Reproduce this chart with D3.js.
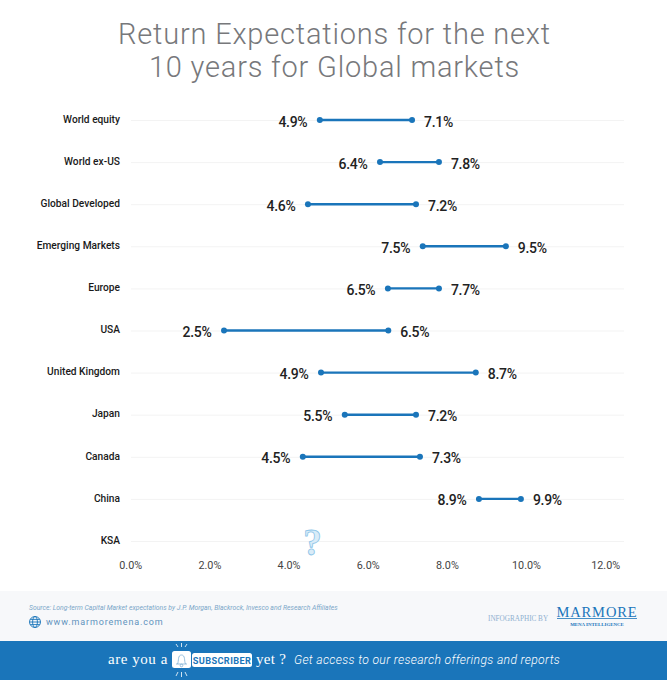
<!DOCTYPE html>
<html>
<head>
<meta charset="utf-8">
<script src="https://cdn.jsdelivr.net/npm/d3@7"></script>
<style>
body{margin:0;background:#fff;}
text{font-family:Roboto,sans-serif;}
</style>
</head>
<body>
<div id="chart"></div>
<script>
var categories = ["World equity","World ex-US","Global Developed","Emerging Markets","Europe","USA","United Kingdom","Japan","Canada","China","KSA"];
// dot positions as drawn, they sit a bit off the printed numbers on the low side
var lowValues = [4.77,6.29,4.47,7.37,6.49,2.35,4.8,5.4,4.34,8.79,null];
var highValues = [7.1,7.78,7.2,9.47,7.78,6.5,8.71,7.2,7.3,9.85,null];
var lowLabels = ["4.9%","6.4%","4.6%","7.5%","6.5%","2.5%","4.9%","5.5%","4.5%","8.9%",null];
var highLabels = ["7.1%","7.8%","7.2%","9.5%","7.7%","6.5%","8.7%","7.2%","7.3%","9.9%",null];
var xTicks = [0,2,4,6,8,10,12];
var titleLines = ["Return Expectations for the next","10 years for Global markets"];

var width = 667, height = 680;
var blue = "#1a75ba";

var svg = d3.select("#chart").append("svg")
    .attr("width",width)
    .attr("height",height)
    .style("display","block");

svg.selectAll(".title").data(titleLines).enter().append("text")
    .attr("class","title")
    .attr("x",334.5)
    .attr("y",function(d,i){ return 44 + i*33; })
    .attr("text-anchor","middle")
    .attr("fill","#77787b")
    .style("font-weight",300)
    .style("font-size","29px")
    .style("letter-spacing","0.8px")
    .text(function(d){ return d; });

var x = d3.scaleLinear().domain([0,12]).range([131,606]);
var y = d3.scalePoint().domain(categories).range([120,541]);

// grid
svg.selectAll(".grid").data(categories).enter().append("line")
    .attr("x1",131)
    .attr("x2",624)
    .attr("y1",function(d){ return y(d)+0.5; })
    .attr("y2",function(d){ return y(d)+0.5; })
    .attr("stroke","#f3f3f3")
    .attr("stroke-width",1);

// axes
var xAxis = d3.axisBottom(x).tickValues(xTicks).tickFormat(function(d){ return d.toFixed(1)+"%"; }).tickSize(0);
var gx = svg.append("g").attr("transform","translate(-0.8,558)").call(xAxis);
gx.select(".domain").remove();
gx.selectAll("text").attr("fill","#444").style("font-size","10.8px").style("font-family","Roboto,sans-serif");

var yAxis = d3.axisLeft(y).tickSize(0).tickPadding(0);
var gy = svg.append("g").attr("transform","translate(120,-1)").call(yAxis);
gy.select(".domain").remove();
gy.selectAll("text").attr("fill","#1a1a1a").style("font-size","10.2px").style("font-weight",500).style("font-family","Roboto,sans-serif");

// ranges
var rows = categories.map(function(c,i){
    return {name:c,low:lowValues[i],high:highValues[i],lowLabel:lowLabels[i],highLabel:highLabels[i]};
}).filter(function(d){ return d.low != null; });

svg.selectAll(".range").data(rows).enter().append("line")
    .attr("class","range")
    .attr("x1",function(d){ return x(d.low); })
    .attr("x2",function(d){ return x(d.high); })
    .attr("y1",function(d){ return y(d.name); })
    .attr("y2",function(d){ return y(d.name); })
    .attr("stroke",blue)
    .attr("stroke-width",2.4);

["low","high"].forEach(function(k){
    svg.selectAll(".dot-"+k).data(rows).enter().append("circle")
	.attr("class","dot-"+k)
	.attr("cx",function(d){ return x(d[k]); })
	.attr("cy",function(d){ return y(d.name); })
	.attr("r",3)
	.attr("fill",blue);
});

svg.selectAll(".lowLabel").data(rows).enter().append("text")
    .attr("class","lowLabel")
    .attr("x",function(d){ return x(d.low)-12.5; })
    .attr("y",function(d){ return y(d.name)+6.5; })
    .attr("text-anchor","end")
    .attr("fill","#222")
    .style("font-size","14px")
    .style("font-weight",500)
    .style("letter-spacing","-0.3px")
    .text(function(d){ return d.lowLabel; });

svg.selectAll(".highLabel").data(rows).enter().append("text")
    .attr("class","highLabel")
    .attr("x",function(d){ return x(d.high)+12; })
    .attr("y",function(d){ return y(d.name)+6.5; })
    .attr("fill","#222")
    .style("font-size","14px")
    .style("font-weight",500)
    .style("letter-spacing","-0.3px")
    .text(function(d){ return d.highLabel; });

// KSA has no numbers, only a question mark
svg.append("text")
    .attr("x",312.5)
    .attr("y",555)
    .attr("text-anchor","middle")
    .attr("fill","#d9ecf8")
    .attr("stroke","#8cc4e8")
    .attr("stroke-width",0.8)
    .style("font-family","Liberation Serif,serif")
    .style("font-weight",700)
    .style("font-size","37px")
    .text("?");

// footer
svg.append("rect").attr("x",0).attr("y",591).attr("width",width).attr("height",50).attr("fill","#f7f8fa");
svg.append("rect").attr("x",0).attr("y",641).attr("width",width).attr("height",39).attr("fill",blue);

svg.append("text").attr("x",29).attr("y",610)
    .attr("fill","#7ba7c9")
    .style("font-size","6.8px")
    .style("font-style","italic")
    .text("Source: Long-term Capital Market expectations by J.P. Morgan, Blackrock, Invesco and Research Affiliates");

var globe = svg.append("g").attr("transform","translate(35,622)")
    .attr("fill","none").attr("stroke",blue).attr("stroke-width",0.9);
globe.append("circle").attr("r",5.5);
globe.append("ellipse").attr("rx",2.4).attr("ry",5.5);
globe.append("line").attr("x1",-5.5).attr("x2",5.5);
globe.append("line").attr("x1",-4.8).attr("x2",4.8).attr("y1",-2.6).attr("y2",-2.6);
globe.append("line").attr("x1",-4.8).attr("x2",4.8).attr("y1",2.6).attr("y2",2.6);

svg.append("text").attr("x",46).attr("y",625)
    .attr("fill","#5f93bd")
    .style("font-size","9px")
    .style("letter-spacing","0.85px")
    .text("www.marmoremena.com");

svg.append("text").attr("x",488).attr("y",620.5)
    .attr("fill","#8fb0d0")
    .style("font-family","Liberation Serif,serif")
    .style("font-size","7.2px")
    .text("INFOGRAPHIC BY");

svg.append("text").attr("x",597).attr("y",616.5)
    .attr("text-anchor","middle")
    .attr("fill",blue)
    .style("font-family","Liberation Serif,serif")
    .style("font-size","14.5px")
    .style("letter-spacing","0.9px")
    .text("MARMORE");
svg.append("line").attr("x1",557).attr("x2",637).attr("y1",618.5).attr("y2",618.5).attr("stroke",blue).attr("stroke-width",0.8);
svg.append("text").attr("x",597).attr("y",625.5)
    .attr("text-anchor","middle")
    .attr("fill",blue)
    .style("font-family","Liberation Serif,serif")
    .style("font-weight",700)
    .style("font-size","4.9px")
    .text("MENA INTELLIGENCE");

// subscriber banner
svg.append("text").attr("x",108).attr("y",664)
    .attr("fill","#fff")
    .style("font-family","Liberation Serif,serif")
    .style("font-size","15px")
    .style("letter-spacing","0.55px")
    .text("are you a");
svg.append("rect").attr("x",192).attr("y",653).attr("width",60).attr("height",14).attr("rx",2.5).attr("fill","#fff");
svg.append("rect").attr("x",172).attr("y",651).attr("width",19).attr("height",17).attr("rx",2.5).attr("fill","#fff");

var bell = svg.append("g").attr("fill","none").attr("stroke","#7fb0d4").attr("stroke-width",0.8);
bell.append("path").attr("d","M176 664 h11 M177.5 664 c1.5 -3 0 -9 4 -9 c4 0 2.5 6 4 9");
bell.append("circle").attr("cx",181.5).attr("cy",665.5).attr("r",1.3);

var rays = svg.append("g").attr("stroke","#fff").attr("stroke-width",0.8);
[[176,644,178,647],[181.5,643,181.5,647],[187,644,185,647],[176,676,178,672],[181.5,677,181.5,672],[187,676,185,672]].forEach(function(r){
    rays.append("line").attr("x1",r[0]).attr("y1",r[1]).attr("x2",r[2]).attr("y2",r[3]);
});

svg.append("text").attr("x",222).attr("y",663.6)
    .attr("text-anchor","middle")
    .attr("fill",blue)
    .style("font-size","9.2px")
    .style("font-weight",700)
    .style("letter-spacing","0.4px")
    .text("SUBSCRIBER");
svg.append("text").attr("x",256).attr("y",664)
    .attr("fill","#fff")
    .style("font-family","Liberation Serif,serif")
    .style("font-size","15px")
    .style("letter-spacing","0.3px")
    .text("yet ?");
svg.append("text").attr("x",294).attr("y",664)
    .attr("fill","#fff")
    .style("font-size","12.2px")
    .style("font-style","italic")
    .style("font-weight",300)
    .style("letter-spacing","0.33px")
    .text("Get access to our research offerings and reports");
</script>
</body>
</html>
